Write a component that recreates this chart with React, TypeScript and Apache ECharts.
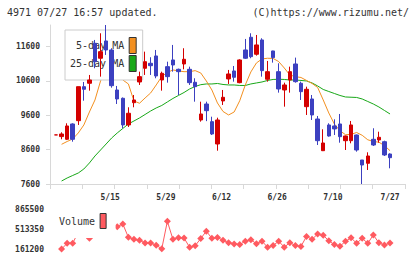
import React, { useEffect, useRef } from 'react';
import * as echarts from 'echarts';

// Trading days (categories)
const dates = [
  '4/28',
  '5/1', '5/2', '5/8', '5/9', '5/10', '5/11', '5/12', '5/15', '5/16', '5/17', '5/18', '5/19',
  '5/22', '5/23', '5/24', '5/25', '5/26', '5/29', '5/30', '5/31',
  '6/1', '6/2', '6/5', '6/6', '6/7', '6/8', '6/9', '6/12', '6/13', '6/14', '6/15', '6/16',
  '6/19', '6/20', '6/21', '6/22', '6/23', '6/26', '6/27', '6/28', '6/29', '6/30',
  '7/3', '7/4', '7/5', '7/6', '7/7', '7/10', '7/11', '7/12', '7/13', '7/14',
  '7/18', '7/19', '7/20', '7/21', '7/24', '7/25', '7/26', '7/27',
];

const openP = [
  9030, 8980, 8902, 9348, 9444, 10434, 10533, 11698, 11262, 11765,
  11503, 10338, 10096, 9319, 9968, 10571, 10970, 11115, 11329, 10629,
  11017, 11212, 10940, 11095, 10940, 10562, 9464, 9930, 9415, 8765,
  10018, 10659, 10891, 10551, 11503, 11873, 11378, 11795, 10650, 11474,
  10871, 10338, 10629, 11095, 10533, 9852, 10076, 9493, 8570, 9319,
  9290, 9348, 8861, 8861, 9027, 8299, 8203, 8902, 8882, 8832, 8474,
];
const closeP = [
  9030, 9056, 9290, 8902, 10434, 10358, 10629, 11162, 11454, 11503,
  10463, 10076, 9320, 9660, 10047, 10726, 11162, 11045, 10746, 10824,
  10726, 11066, 10871, 11232, 10551, 10434, 9639, 9735, 9056, 9464,
  10125, 10804, 10708, 11212, 11262, 11308, 11649, 10901, 10871, 11280,
  10367, 10484, 10871, 10580, 10289, 10358, 9610, 8861, 8794, 8998,
  9203, 8978, 8998, 9319, 8590, 8153, 8416, 8736, 8960, 8445, 8366,
];
const lowP = [
  9030, 8902, 8880, 8832, 9319, 10026, 10318, 10970, 10726, 11358,
  10405, 9930, 9223, 9260, 9834, 10484, 10775, 10775, 10679, 10318,
  10551, 10871, 10192, 10940, 10484, 9997, 9415, 9430, 9027, 8570,
  9901, 10513, 10580, 10533, 11241, 11262, 11338, 10726, 10580, 11134,
  10260, 9852, 10260, 10551, 10047, 9610, 9464, 8736, 8560, 8978,
  9027, 8803, 8590, 8785, 8541, 7600, 8008, 8707, 8803, 8416, 8057,
];
const highP = [
  9030, 9106, 9368, 9368, 10434, 10571, 10775, 11795, 11989, 12230,
  11553, 10455, 10120, 9834, 10192, 10871, 11454, 11291, 11503, 10871,
  11162, 11649, 10960, 11553, 11017, 10679, 9997, 9997, 9560, 9531,
  10338, 10921, 11037, 11232, 11824, 11989, 11940, 11844, 11183, 11480,
  11115, 10551, 11017, 11280, 10580, 10434, 10192, 9581, 9193, 9368,
  9484, 9639, 9010, 9435, 9040, 8299, 8523, 9223, 9123, 8861, 8494,
];

const ma5 = [
  null, 8756, 8838, 8911, 9086, 9319, 9697, 10047, 10600, 11008,
  11066, 10950, 10629, 10513, 10018, 9951, 10105, 10251, 10484, 10731,
  10848, 10921, 10892, 10871, 10871, 10901, 10833, 10600, 10338, 9959,
  9712, 9610, 9697, 10024, 10484, 10863, 11124, 11241, 11262, 11256,
  11165, 10979, 10775, 10726, 10702, 10615, 10527, 10411, 10047, 9668,
  9348, 9150, 9036, 9045, 9100, 9018, 8888, 8838, 8818, 8719, 8570,
];
const ma25 = [
  null, 7687, 7775, 7848, 7920, 8037, 8212, 8416, 8590, 8765,
  8940, 9086, 9217, 9348, 9435, 9523, 9624, 9726, 9814, 9887,
  9989, 10091, 10178, 10265, 10367, 10440, 10492, 10513, 10513, 10527,
  10498, 10484, 10484, 10469, 10469, 10513, 10542, 10571, 10615, 10644,
  10650, 10644, 10629, 10629, 10615, 10600, 10542, 10455, 10353, 10294,
  10236, 10178, 10134, 10127, 10120, 10076, 10003, 9930, 9843, 9741, 9639,
];
const volume = [
  null, 161200, 261600, 261600, 460000, 560000, 349600, 865500, 780000, 620000,
  540000, 553000, 601400, 367200, 332000, 314400, 266800, 266800, 226300, 166500,
  648900, 332000, 360200, 354900, 191100, 219300, 346000, 474600, 349600, 363700,
  314400, 272100, 249200, 240400, 298500, 323200, 254500, 298500, 192900, 222800,
  298500, 192900, 272100, 222800, 207000, 383000, 332000, 425300, 402400, 305600,
  238700, 208700, 296800, 358400, 261600, 349600, 261600, 407700, 270400, 231600,
  266800,
];

const priceTicks = [7600, 8600, 9600, 10600, 11600];
const volumeTicks = [161200, 513350, 865500];
const dateLabels = ['5/15', '5/29', '6/12', '6/26', '7/10'];
const lastDateLabel = '7/27';

const RED = '#d40000';
const BLUE = '#3c40c0';
const ORANGE = '#f39020';
const GREEN = '#18a818';
const VOL = '#ff5a60';
const AXIS = '#d8d8d8';
const MONO = 'DejaVu Sans Mono';

export default function App() {
  const ref = useRef<HTMLDivElement>(null);
  useEffect(() => {
    const chart = echarts.init(ref.current!, null, { renderer: 'svg' });
    const idx = dates.map((_, i) => i);
    const candleData = idx.map((i) => [i, openP[i], closeP[i], lowP[i], highP[i]]);
    const ma5Data = idx.map((i) => [i, ma5[i]]);
    const ma25Data = idx.map((i) => [i, ma25[i]]);
    const volData = idx.map((i) => [i, volume[i]]);
    const labelIdx = dateLabels.map((d) => dates.indexOf(d));
    const lastIdx = dates.indexOf(lastDateLabel);
    const X_MIN = -1.08;
    const X_MAX = 62.69;
    const lbl = { fontFamily: MONO, fontSize: 8, fontWeight: 'bold' as const, color: '#333' };
    const plain = (v: number) => String(Math.round(v));

    chart.setOption({
      animation: false,
      title: [
        {
          text: '4971 07/27 16:57 updated.',
          left: 7,
          top: 7,
          padding: 0,
          textStyle: { fontFamily: MONO, fontSize: 10, fontWeight: 'normal', color: '#333' },
        },
        {
          text: '(C)https://www.rizumu.net/',
          right: 11,
          top: 7,
          padding: 0,
          textStyle: { fontFamily: MONO, fontSize: 10, fontWeight: 'normal', color: '#333' },
        },
      ],
      legend: [
        {
          data: ['5-day MA', '25-day MA'],
          orient: 'vertical',
          left: 65,
          top: 30,
          align: 'right',
          icon: 'rect',
          itemWidth: 7,
          itemHeight: 16,
          itemGap: 1,
          padding: [7, 6, 8, 5],
          backgroundColor: '#fff',
          borderColor: '#ccc',
          borderWidth: 1,
          selectedMode: false,
          z: 2,
          itemStyle: { borderColor: '#333', borderWidth: 1 },
          textStyle: { fontFamily: MONO, fontSize: 10, color: '#333' },
        },
        {
          data: ['Volume'],
          orient: 'horizontal',
          left: 55,
          top: 203,
          align: 'right',
          icon: 'rect',
          itemWidth: 6,
          itemHeight: 15,
          padding: [10, 9, 9, 4],
          backgroundColor: '#fff',
          selectedMode: false,
          z: 2,
          itemStyle: { borderColor: '#333', borderWidth: 1 },
          textStyle: { fontFamily: MONO, fontSize: 10, color: '#333' },
        },
      ],
      grid: [
        { left: 50, right: 15, top: 25, height: 159 },
        { left: 50, right: 15, top: 209, height: 40 },
      ],
      xAxis: [
        {
          type: 'value',
          gridIndex: 0,
          position: 'bottom',
          min: X_MIN,
          max: X_MAX,
          axisLine: { show: false, onZero: false },
          axisTick: { show: false },
          splitLine: { show: false },
          axisLabel: {
            customValues: labelIdx,
            formatter: (v: number) => dates[Math.round(v)],
            align: 'left',
            margin: 9,
            ...lbl,
          },
        },
        {
          type: 'category',
          gridIndex: 0,
          position: 'bottom',
          data: ['', '', '', '', '', '', '', '', '', '', ''],
          boundaryGap: true,
          axisLine: { show: true, onZero: false, lineStyle: { color: AXIS } },
          axisTick: { show: true, interval: 0, length: 5, lineStyle: { color: AXIS } },
          axisLabel: { show: false },
          splitLine: { show: false },
        },
        {
          type: 'value',
          gridIndex: 0,
          position: 'bottom',
          min: X_MIN,
          max: X_MAX,
          axisLine: { show: false, onZero: false },
          axisTick: { show: false },
          splitLine: { show: false },
          axisLabel: {
            customValues: [lastIdx],
            formatter: () => lastDateLabel,
            align: 'center',
            margin: 9,
            ...lbl,
          },
        },
        {
          type: 'value',
          gridIndex: 1,
          position: 'bottom',
          min: X_MIN,
          max: X_MAX,
          show: false,
          axisLine: { onZero: false },
          splitLine: { show: false },
        },
      ],
      yAxis: [
        {
          type: 'value',
          gridIndex: 0,
          position: 'left',
          min: 7600,
          max: 12230,
          axisLine: { show: true, onZero: false, lineStyle: { color: AXIS } },
          axisTick: { show: true, customValues: priceTicks, length: 4, lineStyle: { color: AXIS } },
          axisLabel: { customValues: priceTicks, margin: 10, formatter: plain, ...lbl },
          splitLine: { show: false },
        },
        {
          type: 'value',
          gridIndex: 1,
          position: 'left',
          min: 161200,
          max: 865500,
          axisLine: { show: false, onZero: false },
          axisTick: { show: false },
          axisLabel: { customValues: volumeTicks, margin: 6, formatter: plain, ...lbl },
          splitLine: { show: false },
        },
      ],
      series: [
        {
          type: 'line',
          name: '25-day MA',
          xAxisIndex: 0,
          yAxisIndex: 0,
          data: ma25Data,
          symbol: 'none',
          lineStyle: { color: GREEN, width: 1 },
          itemStyle: { color: GREEN },
          z: 1,
        },
        {
          type: 'line',
          name: '5-day MA',
          xAxisIndex: 0,
          yAxisIndex: 0,
          data: ma5Data,
          symbol: 'none',
          lineStyle: { color: ORANGE, width: 1 },
          itemStyle: { color: ORANGE },
          z: 1,
        },
        {
          type: 'candlestick',
          name: 'Price',
          xAxisIndex: 0,
          yAxisIndex: 0,
          data: candleData,
          barWidth: 4,
          itemStyle: {
            color: RED,
            color0: BLUE,
            borderColor: RED,
            borderColor0: BLUE,
            borderWidth: 1,
          },
          z: 3,
        },
        {
          type: 'line',
          name: 'Volume',
          xAxisIndex: 3,
          yAxisIndex: 1,
          data: volData,
          symbol: 'diamond',
          symbolSize: 7,
          lineStyle: { color: VOL, width: 1 },
          itemStyle: { color: VOL },
          z: 1,
        },
      ],
    });
    return () => chart.dispose();
  }, []);
  return (
    <div
      ref={ref}
      style={{ position: 'absolute', left: 0, top: 0, width: 420, height: 259, background: '#fff' }}
    />
  );
}
